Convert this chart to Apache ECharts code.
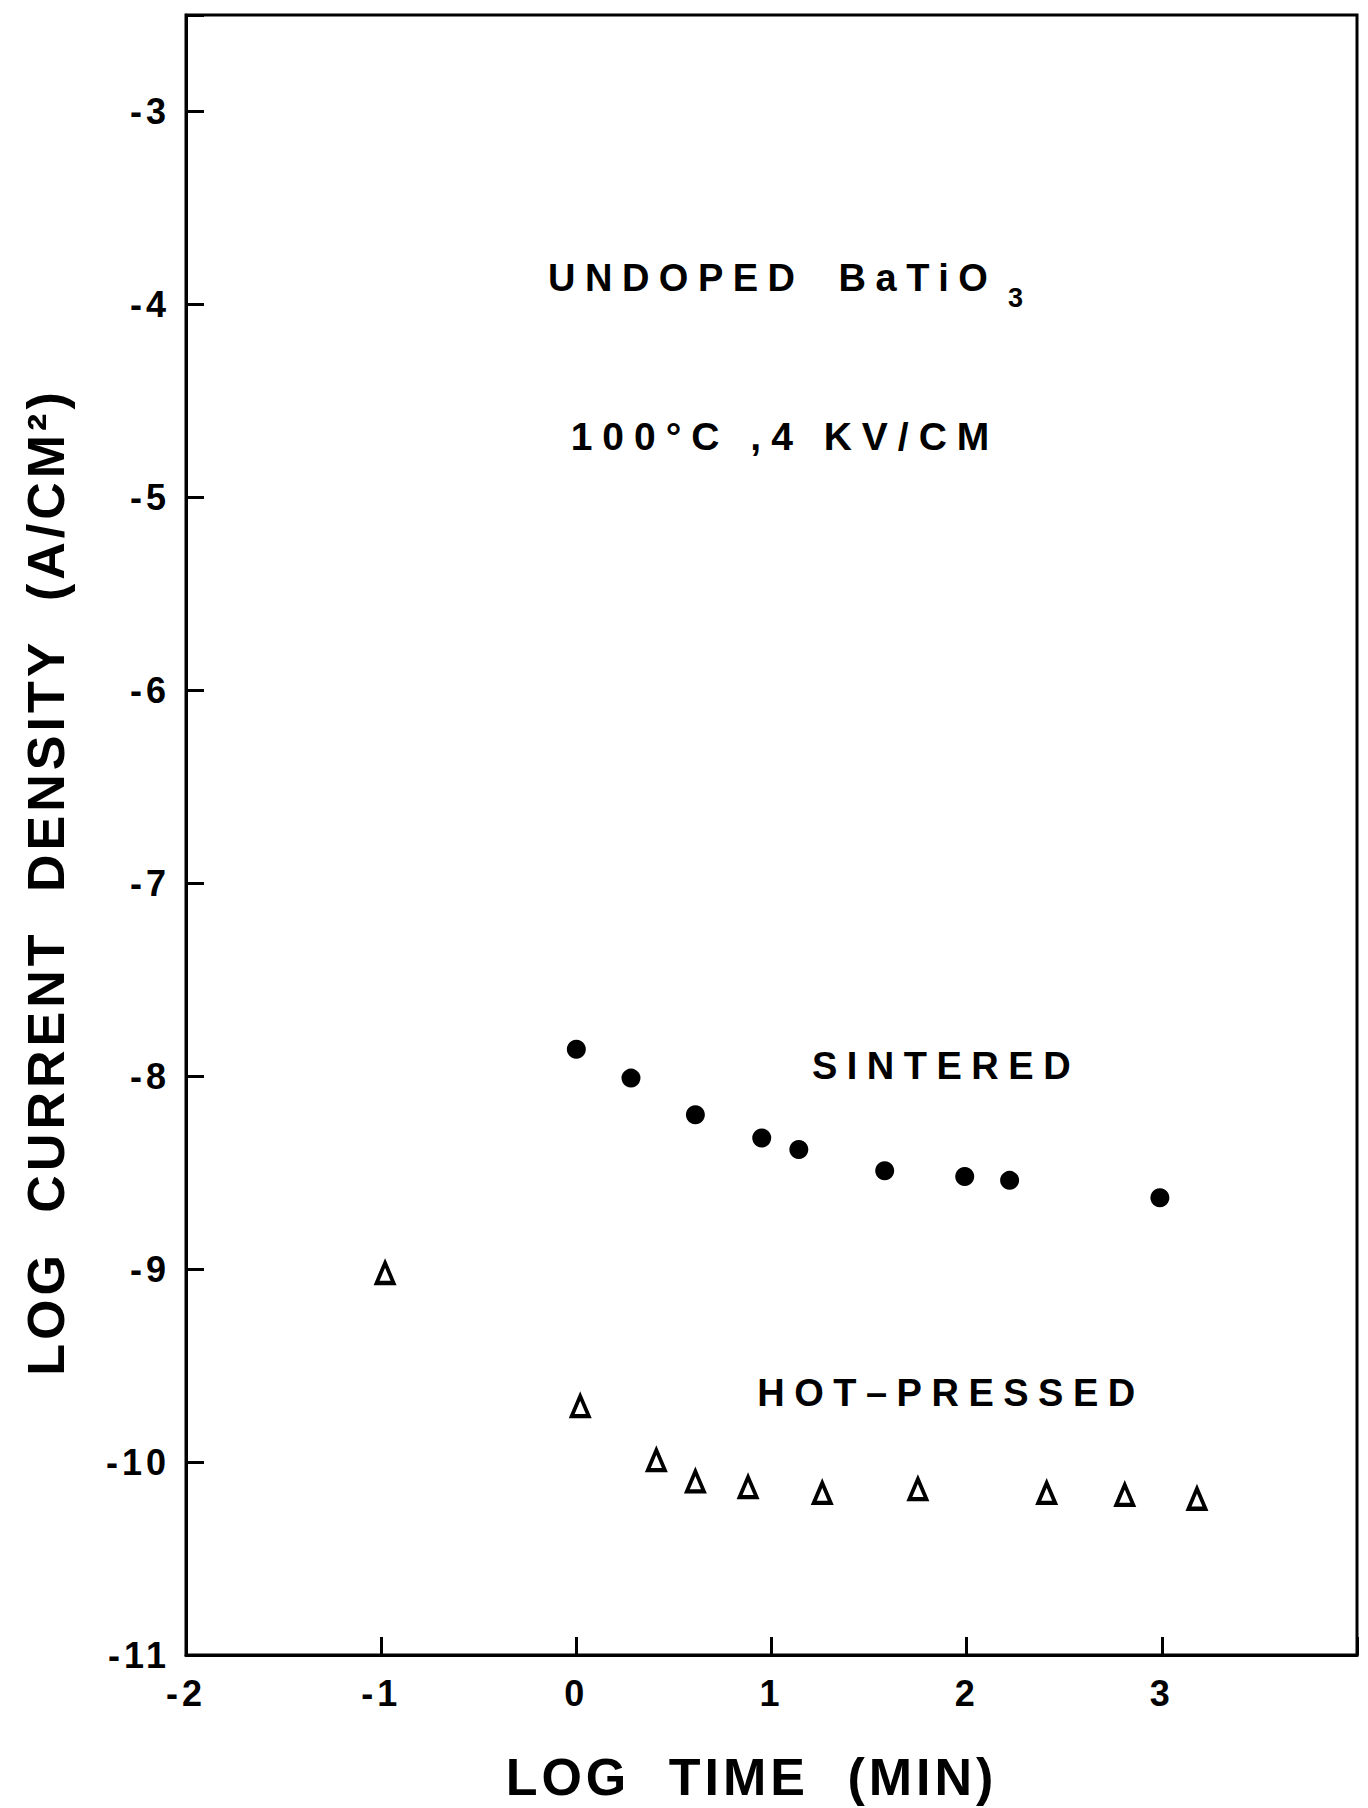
<!DOCTYPE html>
<html>
<head>
<meta charset="utf-8">
<script src="https://cdn.jsdelivr.net/npm/echarts@6/dist/echarts.min.js"></script>
<style>
  html, body { margin: 0; padding: 0; background: #fff; }
  #chart { width: 1368px; height: 1808px; }
  /* wide, typewriter-like tracking of the lettering, keyed by font size */
  #chart svg text[style*="52px"] { letter-spacing: 4px; word-spacing: 20px; }
  #chart svg text[style*="36px"] { letter-spacing: 4px; }
  #chart svg text[style*="38px"] { letter-spacing: 9.5px; word-spacing: 14px; }
  #chart svg text[style*="39px"] { letter-spacing: 10px; }
</style>
</head>
<body>
<div id="chart"></div>
<script>
// log time (min) and log current density (A/cm^2), sintered samples
const sinteredLogT = [0.0, 0.28, 0.61, 0.95, 1.14, 1.58, 1.99, 2.22, 2.99];
const sinteredLogJ = [-7.86, -8.01, -8.20, -8.32, -8.38, -8.49, -8.52, -8.54, -8.63];

// hot-pressed samples
const hotPressedLogT = [-0.98, 0.02, 0.41, 0.61, 0.88, 1.26, 1.75, 2.41, 2.81, 3.18];
const hotPressedLogJ = [-9.02, -9.71, -9.99, -10.10, -10.13, -10.16, -10.14, -10.16, -10.17, -10.19];

// labelled ticks
const xTickLabels = ['-2', '-1', '0', '1', '2', '3'];
const yTickLabels = ['-11', '-10', '-9', '-8', '-7', '-6', '-5', '-4', '-3'];

const FONT = '"Liberation Sans", Arial, Helvetica, sans-serif';
const INK = '#000';

const chart = echarts.init(document.getElementById('chart'), null, { renderer: 'svg' });

const axisCommon = {
  type: 'value',
  interval: 1,
  splitLine: { show: false },
  axisLine: { show: true, onZero: false, lineStyle: { color: INK, width: 3 } },
  axisTick: { show: true, inside: true, length: 18, lineStyle: { color: INK, width: 3 } }
};

chart.setOption({
  animation: false,
  backgroundColor: '#fff',
  grid: {
    left: 186, right: 11, top: 15, bottom: 147,
    show: true, borderColor: INK, borderWidth: 3, backgroundColor: 'transparent'
  },
  xAxis: Object.assign({}, axisCommon, {
    min: -2, max: 4,
    axisLabel: {
      color: INK, fontSize: 36, fontWeight: 'bold', fontFamily: FONT, margin: 20,
      formatter: v => (xTickLabels.includes(String(v)) ? String(v) : '')
    },
    name: 'LOG TIME (MIN)',
    nameLocation: 'middle',
    nameGap: 96,
    nameTextStyle: { color: INK, fontSize: 52, fontWeight: 'bold', fontFamily: FONT, padding: [0, 40, 0, 0] }
  }),
  yAxis: Object.assign({}, axisCommon, {
    min: -11, max: -2.5,
    axisLabel: {
      color: INK, fontSize: 36, fontWeight: 'bold', fontFamily: FONT, margin: 16,
      formatter: v => (yTickLabels.includes(String(v)) ? String(v) : '')
    },
    name: 'LOG CURRENT DENSITY (A/CM²)',
    nameLocation: 'middle',
    nameRotate: 90,
    nameGap: 114,
    nameTextStyle: { color: INK, fontSize: 52, fontWeight: 'bold', fontFamily: FONT, padding: [0, 94, 0, 0] }
  }),
  series: [
    {
      name: 'SINTERED',
      type: 'scatter',
      symbol: 'circle',
      symbolSize: 19,
      itemStyle: { color: INK, opacity: 1 },
      data: sinteredLogT.map((t, i) => [t, sinteredLogJ[i]])
    },
    {
      name: 'HOT–PRESSED',
      type: 'scatter',
      symbol: 'triangle',
      symbolSize: [17, 20],
      itemStyle: { color: '#fff', borderColor: INK, borderWidth: 4, opacity: 1 },
      data: hotPressedLogT.map((t, i) => [t, hotPressedLogJ[i]])
    }
  ],
  graphic: [
    {
      type: 'text', x: 548, y: 278,
      style: { text: 'UNDOPED BaTiO', font: 'bold 38px ' + FONT, fill: INK,
               align: 'left', verticalAlign: 'middle', textAlign: 'left', textVerticalAlign: 'middle' }
    },
    {
      type: 'text', x: 1008, y: 298,
      style: { text: '3', font: 'bold 27px ' + FONT, fill: INK,
               align: 'left', verticalAlign: 'middle', textAlign: 'left', textVerticalAlign: 'middle' }
    },
    {
      type: 'text', x: 785, y: 436,
      style: { text: '100°C ,4 KV/CM', font: 'bold 39px ' + FONT, fill: INK,
               align: 'center', verticalAlign: 'middle', textAlign: 'center', textVerticalAlign: 'middle' }
    },
    {
      type: 'text', x: 946, y: 1066,
      style: { text: 'SINTERED', font: 'bold 38px ' + FONT, fill: INK,
               align: 'center', verticalAlign: 'middle', textAlign: 'center', textVerticalAlign: 'middle' }
    },
    {
      type: 'text', x: 951, y: 1393,
      style: { text: 'HOT–PRESSED', font: 'bold 38px ' + FONT, fill: INK,
               align: 'center', verticalAlign: 'middle', textAlign: 'center', textVerticalAlign: 'middle' }
    }
  ]
});
</script>
</body>
</html>
